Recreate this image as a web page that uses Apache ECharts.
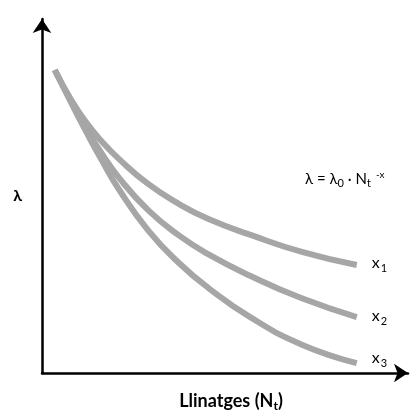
<!DOCTYPE html>
<html>
<head>
<meta charset="utf-8">
<script src="https://cdn.jsdelivr.net/npm/echarts@6/dist/echarts.min.js"></script>
<style>
  html, body { margin: 0; padding: 0; background: #ffffff; }
  #chart { width: 415px; height: 414px; }
</style>
</head>
<body>
<div id="chart"></div>
<script>
// Number of lineages N_t (arbitrary units along the horizontal axis)
const lineages = [3.5, 8, 12, 16, 21, 29, 37.5, 45.5, 57, 71, 86];
// Rate λ for three values of the exponent x (x1 < x2 < x3)
const lambdaX1 = [85.6, 77.1, 70.9, 65.8, 60.5, 53.4, 47.7, 43.5, 39.0, 34.2, 30.5];
const lambdaX2 = [85.6, 76.6, 69.2, 62.5, 55.2, 46.0, 38.8, 33.5, 27.4, 21.1, 15.8];
const lambdaX3 = [85.6, 76.3, 68.3, 60.7, 51.9, 40.3, 31.0, 24.0, 15.7, 8.0, 2.8];
const seriesNames = ['1', '2', '3'];
const labelShift = [-2, -1, -5];

const FONT = 'Lato, "Open Sans", sans-serif';
const CURVE = '#a6a6a6';

function pairs(ys) {
  return lineages.map((n, i) => [n, ys[i]]);
}

const chart = echarts.init(document.getElementById('chart'), null, { renderer: 'canvas' });

const axisLine = {
  show: true,
  symbol: ['none', 'arrow'],
  symbolSize: [14, 14],
  lineStyle: { color: '#000000', width: 2.5 }
};

const curves = [lambdaX1, lambdaX2, lambdaX3].map((ys, k) => ({
  type: 'line',
  name: 'x' + seriesNames[k],
  data: pairs(ys),
  smooth: true,
  showSymbol: false,
  silent: true,
  lineStyle: { color: CURVE, width: 6, cap: 'butt' },
  endLabel: {
    show: true,
    distance: 15,
    offset: [0, labelShift[k]],
    formatter: '{v|x}{s|' + seriesNames[k] + '}',
    rich: {
      v: { fontFamily: FONT, fontSize: 16, color: '#000000' },
      s: { fontFamily: FONT, fontSize: 11, color: '#000000', padding: [10, 0, 0, 1] }
    }
  }
}));

chart.setOption({
  animation: false,
  backgroundColor: '#ffffff',
  grid: { left: 42, right: 7, top: 19, bottom: 41, containLabel: false, outerBoundsMode: 'none' },
  xAxis: {
    type: 'value',
    min: 0,
    max: 100,
    axisLine: axisLine,
    axisTick: { show: false },
    axisLabel: { show: false },
    splitLine: { show: false },
    name: '{b|Llinatges (N}{bs|t}{b|)}',
    nameLocation: 'middle',
    nameGap: 18,
    nameTextStyle: {
      padding: [0, 0, 0, 12],
      rich: {
        b: { fontFamily: FONT, fontSize: 18, fontWeight: 'bold', color: '#000000' },
        bs: { fontFamily: FONT, fontSize: 12, fontWeight: 'bold', color: '#000000', padding: [9, 0, 0, 0] }
      }
    }
  },
  yAxis: {
    type: 'value',
    min: 0,
    max: 100,
    axisLine: axisLine,
    axisTick: { show: false },
    axisLabel: { show: false },
    splitLine: { show: false },
    name: 'λ',
    nameLocation: 'middle',
    nameRotate: 0,
    nameGap: 20,
    nameTextStyle: { fontFamily: FONT, fontSize: 16, fontWeight: 'bold', color: '#000000' }
  },
  graphic: [{
    type: 'text',
    left: 305,
    top: 170,
    silent: true,
    style: {
      text: '{m|λ = λ}{s|0}{m| · N}{s|t}{p|  -x}',
      rich: {
        m: { fontFamily: FONT, fontSize: 15, fill: '#000000' },
        s: { fontFamily: FONT, fontSize: 11, fill: '#000000', padding: [9, 0, 0, 0] },
        p: { fontFamily: FONT, fontSize: 10, fill: '#000000', padding: [0, 0, 8, 0] }
      }
    }
  }],
  series: curves
});
</script>
</body>
</html>
